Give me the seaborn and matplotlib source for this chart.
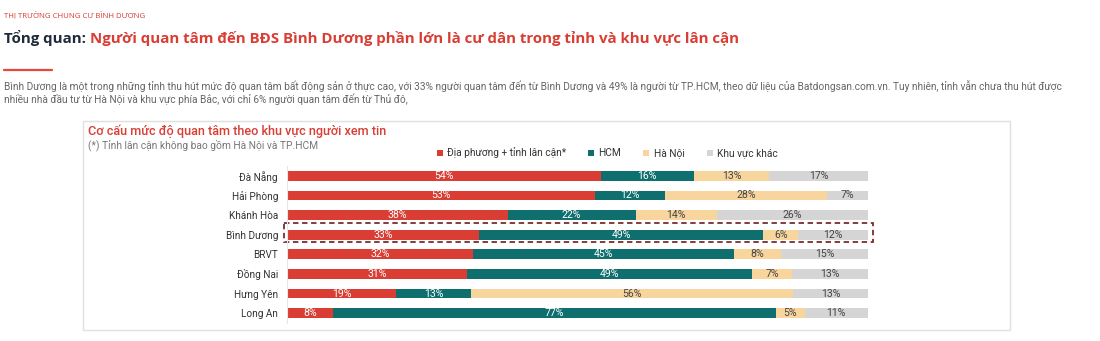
import matplotlib
matplotlib.use("Agg")
import matplotlib.pyplot as plt
from matplotlib.patches import Rectangle, Patch
from matplotlib.lines import Line2D
import numpy as np
import pandas as pd
import seaborn as sns

# ---------------- data ----------------
regions = ["Đà Nẵng", "Hải Phòng", "Khánh Hòa", "Bình Dương", "BRVT", "Đồng Nai", "Hưng Yên", "Long An"]
series_names = ["Địa phương + tỉnh lân cận*", "HCM", "Hà Nội", "Khu vực khác"]
local_vals = [54, 53, 38, 33, 32, 31, 19, 8]
hcm_vals = [16, 12, 22, 49, 45, 49, 13, 77]
hanoi_vals = [13, 28, 14, 6, 8, 7, 56, 5]
other_vals = [17, 7, 26, 12, 15, 13, 13, 11]
highlight_region = "Bình Dương"

colors = ["#D93D33", "#0F6E6E", "#F8D59C", "#D5D5D5"]
label_colors = ["white", "white", "#444444", "#444444"]

sns.set_theme(style="white")
plt.rcParams["font.family"] = ["Roboto", "DejaVu Sans"]

W, H = 1100, 341
fig = plt.figure(figsize=(W / 100, H / 100), dpi=100)

def fx(px):
    return px / W

def fy(py):
    return 1 - py / H

# chart frame
fig.patches.append(Rectangle((fx(83), fy(330)), fx(1010) - fx(83), fy(121) - fy(330),
                             transform=fig.transFigure, fill=False, edgecolor="#E0E0E0", lw=1.0))

ax = fig.add_axes([fx(287), fy(323), fx(868) - fx(287), fy(166) - fy(323)])

df = pd.DataFrame({"region": regions, "s0": local_vals, "s1": hcm_vals, "s2": hanoi_vals, "s3": other_vals})
vals = df[["s0", "s1", "s2", "s3"]].to_numpy(dtype=float)
totals = vals.sum(axis=1, keepdims=True)
shares = vals / totals * 100
cum = np.cumsum(shares, axis=1)

for k in range(3, -1, -1):
    sns.barplot(x=cum[:, k], y=df["region"], color=colors[k], orient="h", width=0.5,
                saturation=1, ax=ax, linewidth=0)

for i in range(len(regions)):
    for k in range(4):
        center = cum[i, k] - shares[i, k] / 2
        ax.text(center, i, f"{int(vals[i, k])}%", ha="center", va="center",
                fontsize=7.6, color=label_colors[k])

ax.set_xlim(0, 100)
ax.set_ylim(len(regions) - 0.5, -0.5)
ax.set_xlabel("")
ax.set_ylabel("")
ax.set_xticks([])
for s in ["top", "right", "bottom"]:
    ax.spines[s].set_visible(False)
ax.spines["left"].set_color("#E6E6E6")
ax.spines["left"].set_linewidth(0.8)
ax.tick_params(axis="y", length=0, pad=6.5, labelsize=7.2, labelcolor="#333333")

hi = regions.index(highlight_region)
ax.add_patch(Rectangle((-0.5, hi - 0.58), 101.4, 0.96, fill=False, edgecolor="#7A2E2E",
                       linestyle=(0, (3, 2)), lw=1.3, clip_on=False))

# legend
handles = [Patch(facecolor=c, edgecolor="none") for c in colors]
fig.legend(handles, series_names, loc="center", bbox_to_anchor=(fx(607), fy(153)), ncol=4,
           frameon=False, fontsize=7.3, handlelength=0.6, handleheight=0.6, handletextpad=0.4,
           columnspacing=2.2, labelcolor="#333333")

# texts
fig.text(fx(4), fy(15), "THỊ TRƯỜNG CHUNG CƯ BÌNH DƯƠNG", fontsize=5.6, color="#D93D33",
         family=["Open Sans", "DejaVu Sans"], va="center", ha="left")
t1 = fig.text(fx(4), fy(38), "Tổng quan: ", fontsize=10.8, color="#1F2A3A", fontweight="bold",
              family=["Open Sans", "DejaVu Sans"], va="center", ha="left")
fig.canvas.draw()
bb = t1.get_window_extent()
fig.text(bb.x1 / W, fy(38), "Người quan tâm đến BĐS Bình Dương phần lớn là cư dân trong tỉnh và khu vực lân cận",
         fontsize=10.8, color="#D93D33", fontweight="bold", family=["Open Sans", "DejaVu Sans"],
         va="center", ha="left")
fig.add_artist(Line2D([fx(4), fx(52)], [fy(70), fy(70)], transform=fig.transFigure,
                      color="#E8453C", lw=1.6))
fig.text(fx(4), fy(86),
         "Bình Dương là một trong những tỉnh thu hút mức độ quan tâm bất động sản ở thực cao, với 33% người quan tâm đến từ Bình Dương và 49% là người từ TP.HCM, theo dữ liệu của Batdongsan.com.vn. Tuy nhiên, tỉnh vẫn chưa thu hút được",
         fontsize=7.3, color="#666666", va="center", ha="left")
fig.text(fx(4), fy(99),
         "nhiều nhà đầu tư từ Hà Nội và khu vực phía Bắc, với chỉ 6% người quan tâm đến từ Thủ đô,",
         fontsize=7.3, color="#666666", va="center", ha="left")
fig.text(fx(88), fy(131), "Cơ cấu mức độ quan tâm theo khu vực người xem tin", fontsize=9.05,
         color="#D93D33", fontweight="medium", va="center", ha="left")
fig.text(fx(88), fy(145), "(*) Tỉnh lân cận không bao gồm Hà Nội và TP.HCM", fontsize=7.4,
         color="#777777", va="center", ha="left")

fig.savefig("out.png", dpi=100)
